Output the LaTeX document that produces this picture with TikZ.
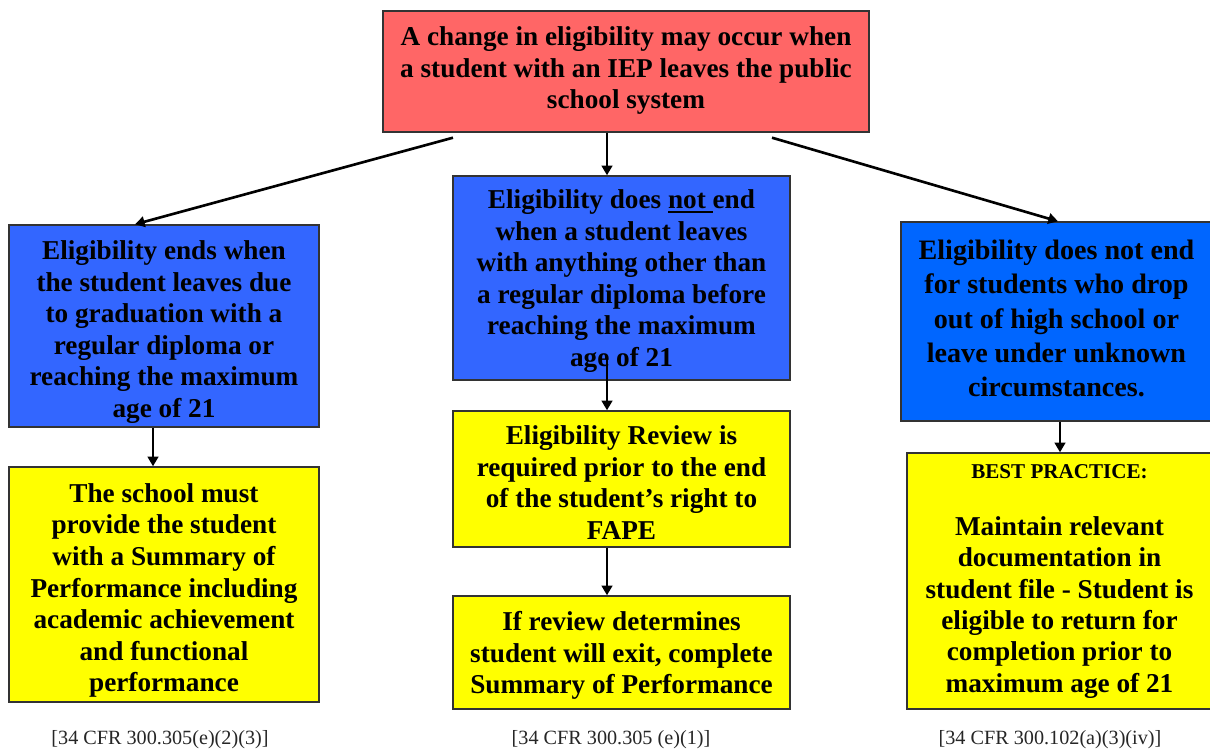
\documentclass[tikz,border=0pt]{standalone}
\usepackage{fontspec}
\setmainfont{Liberation Serif}
\usetikzlibrary{arrows.meta,calc}
\definecolor{topred}{HTML}{FF6666}
\definecolor{blueA}{HTML}{3366FF}
\definecolor{blueB}{HTML}{0066FF}
\definecolor{yel}{HTML}{FFFF00}
\definecolor{edge}{HTML}{333333}
\newcommand\ulthick[1]{\setbox0\hbox{#1}\rlap{\rule[-2.6pt]{\wd0}{1.2pt}}\box0}
\tikzset{
  box/.style={draw=edge, line width=0.8pt, inner sep=0pt},
  txt/.style={inner sep=0pt, align=center, text=black,
    font=\bfseries\fontsize{15.5}{18}\selectfont},
  arr/.style={line width=1.5pt, -{Triangle[length=5.5pt,width=6pt]}},
  cite/.style={font=\fontsize{11.5}{13}\selectfont, text=black!85, inner sep=0pt}
}
\begin{document}
\begin{tikzpicture}[x=0.02cm,y=-0.02cm]
\useasboundingbox (0,0) rectangle (1210,754);
\fill[white] (0,0) rectangle (1210,754);

% boxes
\node[box, fill=topred, minimum width=9.72cm, minimum height=2.42cm] (top) at (626,71.5) {};
\node[box, fill=blueA, minimum width=6.2cm, minimum height=4.04cm] (lb) at (164,326) {};
\node[box, fill=yel, minimum width=6.2cm, minimum height=4.7cm] (ly) at (164,584.5) {};
\node[box, fill=blueA, minimum width=6.74cm, minimum height=4.08cm] (mb) at (621.5,278) {};
\node[box, fill=yel, minimum width=6.74cm, minimum height=2.72cm] (my1) at (621.5,479) {};
\node[box, fill=yel, minimum width=6.74cm, minimum height=2.26cm] (my2) at (621.5,652.5) {};
\node[box, fill=blueB, minimum width=6.22cm, minimum height=3.98cm] (rb) at (1056.5,321.5) {};
\node[box, fill=yel, minimum width=6.1cm, minimum height=5.12cm] (ry) at (1059.5,581) {};

% texts
\node[txt] (topt) at ($(top.center)+(0,-1)$)
  {A change in eligibility may occur when\\a student with an IEP leaves the public\\school system};
\node[txt] (lbt) at ($(lb.center)+(0,6)$)
  {Eligibility ends when\\the student leaves due\\to graduation with a\\regular diploma or\\reaching the maximum\\age of 21};
\node[txt] (lyt) at ($(ly.center)+(0,6)$)
  {The school must\\provide the student\\with a Summary of\\Performance including\\academic achievement\\and functional\\performance};
\node[txt] (mbt) at ($(mb.center)+(0,3)$)
  {Eligibility does \ulthick{not\ }end\\when a student leaves\\with anything other than\\a regular diploma before\\reaching the maximum\\age of 21};
\node[txt] (my1t) at ($(my1.center)+(0,3.5)$)
  {Eligibility Review is\\required prior to the end\\of the student’s right to\\FAPE};
\node[txt] (my2t) at ($(my2.center)+(0,3)$)
  {If review determines\\student will exit, complete\\Summary of Performance};
\node[txt, font=\bfseries\fontsize{16}{19.5}\selectfont] (rbt) at ($(rb.center)+(0,-3)$)
  {Eligibility does not end\\for students who drop\\out of high school or\\leave under unknown\\circumstances.};
\node[txt, font=\bfseries\fontsize{15.5}{17.8}\selectfont] (ryt) at ($(ry.center)+(0,0.5)$)
  {{\fontsize{12}{14}\selectfont BEST PRACTICE:}\\[14.5pt]Maintain relevant\\documentation in\\student file - Student is\\eligible to return for\\completion prior to\\maximum age of 21};

\node[cite] (c1) at (160,740) {[34 CFR 300.305(e)(2)(3)]};
\node[cite] (c2) at (611,740) {[34 CFR 300.305 (e)(1)]};
\node[cite] (c3) at (1050,740) {[34 CFR 300.102(a)(3)(iv)]};

% connectors
\coordinate (tl) at ($(top.south)+(-173,5)$);
\coordinate (tm) at ($(top.south)+(-19,0)$);
\coordinate (tr) at ($(top.south)+(146,5)$);
\draw[arr] (tl) -- ($(lb.north)+(-29,0)$);
\draw[arr] (tm) -- ($(mb.north)+(-14.5,0)$);
\draw[arr] (tr) -- ($(rb.north)+(1.5,0)$);

\draw[arr] ($(lb.south)+(-11,0)$) -- ($(ly.north)+(-11,0)$);
\coordinate (ms) at (607,357);
\draw[arr] (ms) -- ($(my1.north)+(-14.5,0)$);
\draw[arr] ($(my1.south)+(-14.5,0)$) -- ($(my2.north)+(-14.5,0)$);
\draw[arr] ($(rb.south)+(3.5,0)$) -- ($(ry.north)+(0.5,0)$);
\end{tikzpicture}
\end{document}
